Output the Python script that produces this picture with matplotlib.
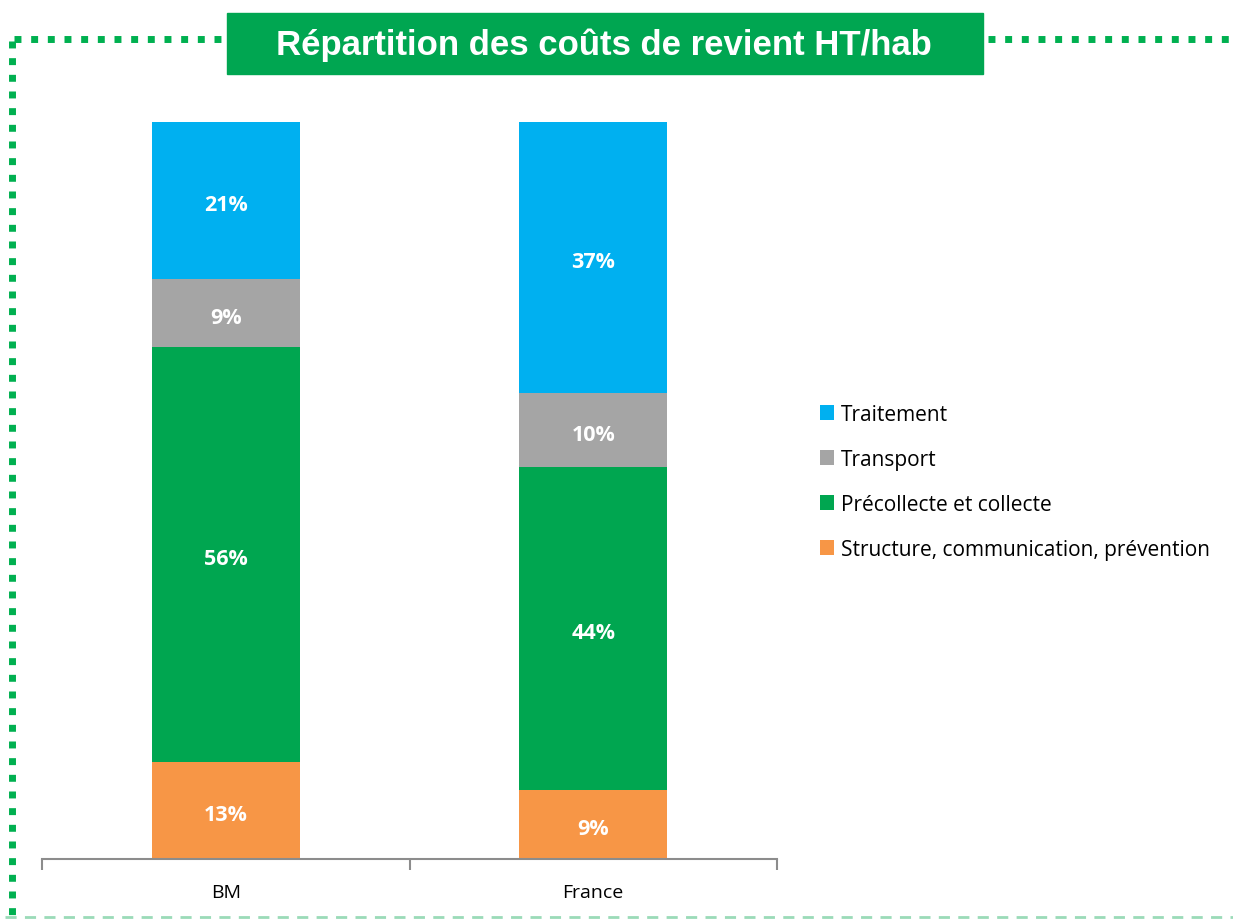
import numpy as np
import matplotlib.pyplot as plt
from matplotlib.lines import Line2D
from matplotlib.patches import Rectangle
from matplotlib.transforms import offset_copy

# Données : parts des coûts de revient HT/hab
categories = ["BM", "France"]
postes = ["Structure, communication, prévention", "Précollecte et collecte", "Transport", "Traitement"]
structure = [13.2, 9.4]
collecte = [56.3, 43.8]
transport = [9.2, 10.0]
traitement = [21.3, 36.8]
couleurs = ["#F79646", "#00A650", "#A5A5A5", "#00B0F0"]

W, H = 1233, 920
fig = plt.figure(figsize=(W / 100, H / 100), dpi=100)

ax = fig.add_axes([42 / W, 1 - 860 / H, (777 - 42) / W, (860 - 123) / H])
trans_txt = offset_copy(ax.transData, fig=fig, x=0, y=-3, units="points")
x = np.arange(len(categories))
bas = np.zeros(len(categories))
for nom, vals, c in zip(postes, [structure, collecte, transport, traitement], couleurs):
    vals = np.array(vals)
    ax.bar(x, vals, 0.403, bottom=bas, color=c, label=nom, zorder=2)
    for xi, v, b0 in zip(x, vals, bas):
        ax.text(xi, b0 + v / 2, f"{v:.0f}%", ha="center", va="center", transform=trans_txt,
                color="white", fontsize=15.5, fontweight="bold", family="Open Sans")
    bas += vals

ax.set_xlim(-0.5, 1.5)
ax.set_ylim(0, 100)
for s in ["top", "right", "left"]:
    ax.spines[s].set_visible(False)
ax.spines["bottom"].set_color("#8C8C8C")
ax.spines["bottom"].set_linewidth(1.5)
ax.set_yticks([])
ax.set_xticks(x)
ax.set_xticklabels(categories, fontsize=14, family="Open Sans")
ax.tick_params(axis="x", which="major", length=0, pad=17)
ax.set_xticks([-0.5, 0.5, 1.5], minor=True)
ax.tick_params(axis="x", which="minor", length=8, width=1.5, color="#8C8C8C")

# légende dans l'ordre inverse (du haut vers le bas)
h, l = ax.get_legend_handles_labels()
fig.legend(h[::-1], l[::-1], loc="center left", bbox_to_anchor=(801 / W, 1 - 483 / H),
           frameon=False, handlelength=0.7, handleheight=0.7,
           handletextpad=0.3, labelspacing=1.15, prop={"family": "Open Sans", "size": 15})

# cadre pointillé vert
vert = "#00B050"
def ligne(xs, ys, **kw):
    fig.add_artist(Line2D([v / W for v in xs], [1 - v / H for v in ys],
                          transform=fig.transFigure, **kw))

pointille = dict(color=vert, lw=5, linestyle=(0, (1, 1.4)), solid_capstyle="butt",
                 dash_capstyle="butt")
ligne([14, 227], [40, 40], **pointille)
ligne([988, 1233], [40, 40], **pointille)
ligne([12, 12], [42, 918], **pointille)
ligne([5, 1233], [918, 918], color="#9ADBB8", lw=2, linestyle=(0, (4, 3)))

# bandeau du titre
fig.add_artist(Rectangle((227 / W, 1 - 75 / H), (983 - 227) / W, 61 / H,
                         transform=fig.transFigure, color="#00A651"))
fig.text(604 / W, 1 - 45 / H, "Répartition des coûts de revient HT/hab", ha="center",
         va="center", color="white", fontsize=25, fontweight="bold", family="Liberation Sans")

fig.savefig("out.png", dpi=100)
